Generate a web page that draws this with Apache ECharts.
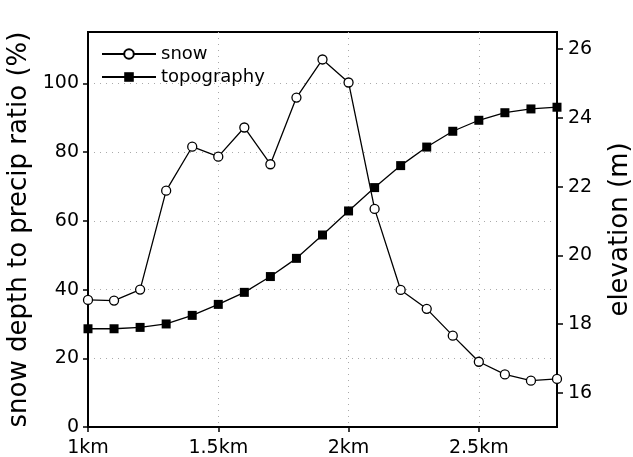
<!DOCTYPE html>
<html>
<head>
<meta charset="utf-8">
<script src="https://cdn.jsdelivr.net/npm/echarts@6/dist/echarts.min.js"></script>
<style>
  html, body { margin: 0; padding: 0; background: #fff; }
  #chart { width: 633px; height: 457px; }
</style>
</head>
<body>
<div id="chart"></div>
<script>
// distance along transect (km)
const distance = [1.0, 1.1, 1.2, 1.3, 1.4, 1.5, 1.6, 1.7, 1.8, 1.9, 2.0, 2.1, 2.2, 2.3, 2.4, 2.5, 2.6, 2.7, 2.8];
// snow depth to precip ratio (%)
const snowRatio = [37, 36.8, 40, 68.8, 81.6, 78.7, 87.2, 76.5, 95.9, 107, 100.3, 63.5, 39.9, 34.4, 26.6, 19, 15.3, 13.5, 14];
// elevation (m)
const elevation = [17.86, 17.86, 17.9, 18.0, 18.25, 18.57, 18.92, 19.38, 19.91, 20.59, 21.29, 21.97, 22.61, 23.15, 23.61, 23.93, 24.15, 24.26, 24.31];
const leftTicks = [0, 20, 40, 60, 80, 100];
const rightTicks = [16, 18, 20, 22, 24, 26];

const chart = echarts.init(document.getElementById('chart'));

const font = 'DejaVu Sans';
const axisLine = { lineStyle: { color: '#000', width: 2 } };
const gridLine = { show: true, lineStyle: { color: '#aaa', width: 1, type: [1, 5] } };

const option = {
  animation: false,
  backgroundColor: '#fff',
  grid: {
    left: 88, right: 76, top: 32, bottom: 30,
    outerBoundsMode: 'none',
    show: true, borderColor: '#000', borderWidth: 2
  },
  legend: {
    orient: 'vertical',
    left: 96, top: 40,
    itemWidth: 54, itemHeight: 12, itemGap: 5,
    textStyle: { fontFamily: font, fontSize: 18, color: '#000' },
    data: ['snow', 'topography']
  },
  xAxis: {
    type: 'value',
    min: 1, max: 2.8, interval: 0.5,
    axisLine: axisLine,
    axisTick: { show: true, length: 5, lineStyle: { color: '#000', width: 1.5 } },
    axisLabel: {
      margin: 12, fontFamily: font, fontSize: 19, color: '#000',
      formatter: v => v + 'km',
      showMaxLabel: false
    },
    splitLine: gridLine
  },
  yAxis: [
    {
      type: 'value',
      min: 0, max: 115, interval: 10,
      name: 'snow depth to precip ratio (%)',
      nameLocation: 'middle', nameGap: 56, nameRotate: 90,
      nameTextStyle: { fontFamily: font, fontSize: 26, color: '#000' },
      axisLine: axisLine,
      axisTick: { show: true, length: 5, customValues: leftTicks, lineStyle: { color: '#000', width: 1.5 } },
      axisLabel: { customValues: leftTicks, margin: 9, fontFamily: font, fontSize: 19, color: '#000' },
      splitLine: gridLine
    },
    {
      type: 'value',
      min: 15, max: 26.5,
      position: 'right',
      name: 'elevation (m)',
      nameLocation: 'middle', nameGap: 50, nameRotate: 90,
      nameTextStyle: { fontFamily: font, fontSize: 26, color: '#000' },
      axisLine: { show: true, lineStyle: { color: '#000', width: 2 } },
      axisTick: { show: true, length: 6, customValues: rightTicks, lineStyle: { color: '#000', width: 1.5 } },
      axisLabel: { customValues: rightTicks, margin: 11, fontFamily: font, fontSize: 19, color: '#000' },
      splitLine: { show: false }
    }
  ],
  series: [
    {
      name: 'snow',
      type: 'line',
      yAxisIndex: 0,
      data: distance.map((d, i) => [d, snowRatio[i]]),
      symbol: 'circle', symbolSize: 9,
      lineStyle: { color: '#000', width: 1.3 },
      itemStyle: { color: '#fff', borderColor: '#000', borderWidth: 1.3 }
    },
    {
      name: 'topography',
      type: 'line',
      yAxisIndex: 1,
      data: distance.map((d, i) => [d, elevation[i]]),
      symbol: 'rect', symbolSize: 9,
      lineStyle: { color: '#000', width: 1.3 },
      itemStyle: { color: '#000', borderColor: '#000', borderWidth: 0 }
    }
  ]
};

chart.setOption(option);

window.addEventListener('resize', () => chart.resize());
</script>
</body>
</html>
